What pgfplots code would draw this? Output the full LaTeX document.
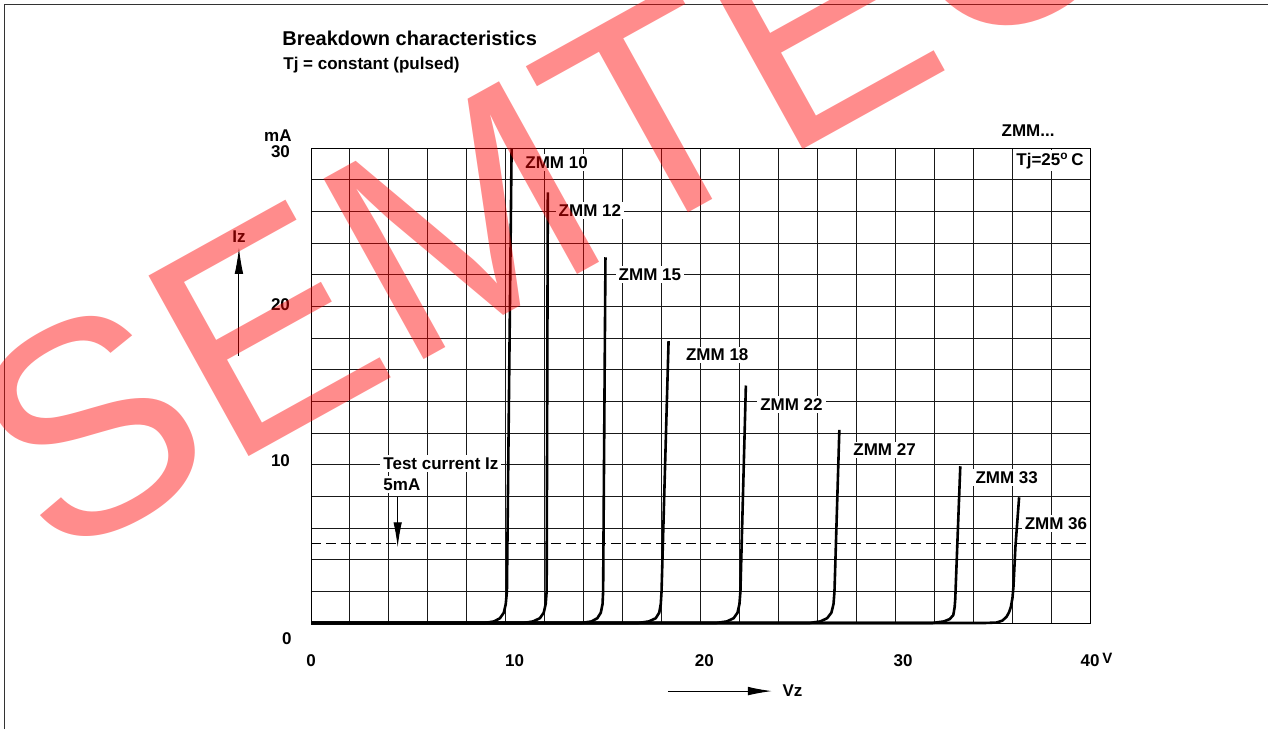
\documentclass[border=0pt]{standalone}
\usepackage{fontspec}
\setmainfont{Liberation Sans}
\usepackage{pgfplots}
\pgfplotsset{compat=1.18}
\usetikzlibrary{arrows.meta}
\tikzset{lab/.style={anchor=west, fill=white, inner xsep=1.5pt, inner ysep=1.2pt, xshift=-1.5pt, font=\fontsize{8.5}{10}\selectfont\bfseries}}
\begin{document}
\begin{tikzpicture}[x=1pt,y=1pt]
\path[use as bounding box, fill=white] (0,0) rectangle (634,364.5);
\draw[line width=0.5pt, black!80] (2,0) -- (2,362) -- (634,362);
\node[anchor=base west, inner sep=0, font=\fontsize{10}{12}\selectfont\bfseries] at (141,341.5) {Breakdown characteristics};
\node[anchor=base west, inner sep=0, font=\fontsize{8.5}{10}\selectfont\bfseries] at (141.5,329.8) {Tj = constant (pulsed)};
\begin{axis}[
  at={(155.5pt,53pt)}, anchor=south west,
  scale only axis, width=389.5pt, height=237.5pt,
  xmin=0, xmax=40, ymin=0, ymax=30,
  clip=false,
  axis line style={line width=0.5pt, black},
  xtick={0,10.45,20.2,30.4,40},
  xticklabels={0,10,20,30,{40\rlap{\,\raisebox{1.5pt}{\fontsize{7.5}{8}\selectfont V}}}},
  ytick={10.25,20.1,29.8},
  yticklabels={10,20,30},
  minor xtick={0,2,...,40},
  minor ytick={0,2,...,30},
  grid=minor,
  minor grid style={black!90, line width=0.5pt},
  major tick length=0pt, minor tick length=0pt,
  /pgf/number format/assume math mode=true,
  ticklabel style={font=\fontsize{8.5}{10}\selectfont\bfseries},
  xticklabel style={anchor=base, yshift=-21.8pt},
  yticklabel style={anchor=east, xshift=-7pt},
]
\addplot[black, line width=0.5pt, dash pattern=on 5pt off 2.5pt] coordinates {(0,5) (40,5)};
\addplot[black, line width=1.3pt, line join=round] coordinates {(0,0) (8.9,0) (9.4,0.1) (9.7,0.3) (9.9,0.65) (10.0,1.2) (10.06,2) (10.3,30)};
\addplot[black, line width=1.3pt, line join=round] coordinates {(0,0) (10.9,0) (11.4,0.1) (11.75,0.3) (11.95,0.65) (12.05,1.2) (12.1,2) (12.16,27.2)};
\addplot[black, line width=1.3pt, line join=round] coordinates {(0,0) (13.9,0) (14.4,0.1) (14.7,0.3) (14.88,0.65) (14.97,1.2) (15.0,2) (15.12,23.1)};
\addplot[black, line width=1.3pt, line join=round] coordinates {(0,0) (16.8,0) (17.35,0.1) (17.7,0.3) (17.88,0.65) (17.96,1.2) (18.0,2) (18.36,17.8)};
\addplot[black, line width=1.3pt, line join=round] coordinates {(0,0) (20.8,0) (21.35,0.1) (21.7,0.3) (21.9,0.65) (22.0,1.2) (22.05,2) (22.33,15.0)};
\addplot[black, line width=1.3pt, line join=round] coordinates {(0,0) (25.6,0) (26.15,0.1) (26.5,0.3) (26.72,0.65) (26.83,1.2) (26.88,2) (27.13,12.2)};
\addplot[black, line width=1.3pt, line join=round] coordinates {(0,0) (31.9,0) (32.5,0.1) (32.8,0.25) (32.98,0.5) (33.05,1.0) (33.08,1.5) (33.34,9.9)};
\addplot[black, line width=1.3pt, line join=round] coordinates {(0,0) (34.6,0) (35.2,0.03) (35.5,0.15) (35.72,0.4) (35.85,0.7) (35.94,1.03) (36.02,1.6) (36.07,2.3) (36.17,4.8) (36.36,7.94)};
\node[lab] at (axis cs:10.99,29.08) {ZMM 10};
\node[lab] at (axis cs:12.7,26.05) {ZMM 12};
\node[lab] at (axis cs:15.78,22.0) {ZMM 15};
\node[lab] at (axis cs:19.24,16.93) {ZMM 18};
\node[lab] at (axis cs:23.05,13.8) {ZMM 22};
\node[lab] at (axis cs:27.83,10.93) {ZMM 27};
\node[lab] at (axis cs:34.1,9.2) {ZMM 33};
\node[lab] at (axis cs:36.63,6.3) {ZMM 36};
\node[lab] at (axis cs:36.2,29.2) {Tj=25\textsuperscript{o}\,C};
\node[font=\fontsize{8.5}{10}\selectfont\bfseries] at (axis cs:36.82,31.08) {ZMM...};
\node[lab] at (axis cs:3.7,10.09) {Test current Iz};
\node[lab] at (axis cs:3.7,8.76) {5mA};
\draw[black, line width=0.5pt, -{Latex[length=12.5pt,width=4.2pt]}] (axis cs:4.45,7.94) -- (axis cs:4.45,4.78);
\draw[black, line width=0.5pt, -{Latex[length=13pt,width=4.3pt]}] (axis cs:-3.7,16.87) -- (axis cs:-3.7,23.69);
\node[font=\fontsize{8.5}{10}\selectfont\bfseries] at (axis cs:-3.7,24.38) {Iz};
\draw[black, line width=0.5pt, -{Latex[length=12pt,width=4.3pt]}] (axis cs:18.33,-4.3) -- (axis cs:23.67,-4.3);
\node[anchor=west, inner sep=0, font=\fontsize{8.5}{10}\selectfont\bfseries] at (axis cs:24.19,-4.3) {Vz};
\node[anchor=east, inner sep=0, xshift=-9.5pt, font=\fontsize{8.5}{10}\selectfont\bfseries] at (axis cs:0,30.8) {mA};
\node[anchor=east, inner sep=0, xshift=-9.5pt, font=\fontsize{8.5}{10}\selectfont\bfseries] at (axis cs:0,-1.0) {0};
\end{axis}
\node[anchor=base west, inner sep=0, rotate=29, text=red, text opacity=0.45, font=\fontsize{150}{150}\selectfont] at (26,81.7) {SEMTECH};
\end{tikzpicture}
\end{document}
